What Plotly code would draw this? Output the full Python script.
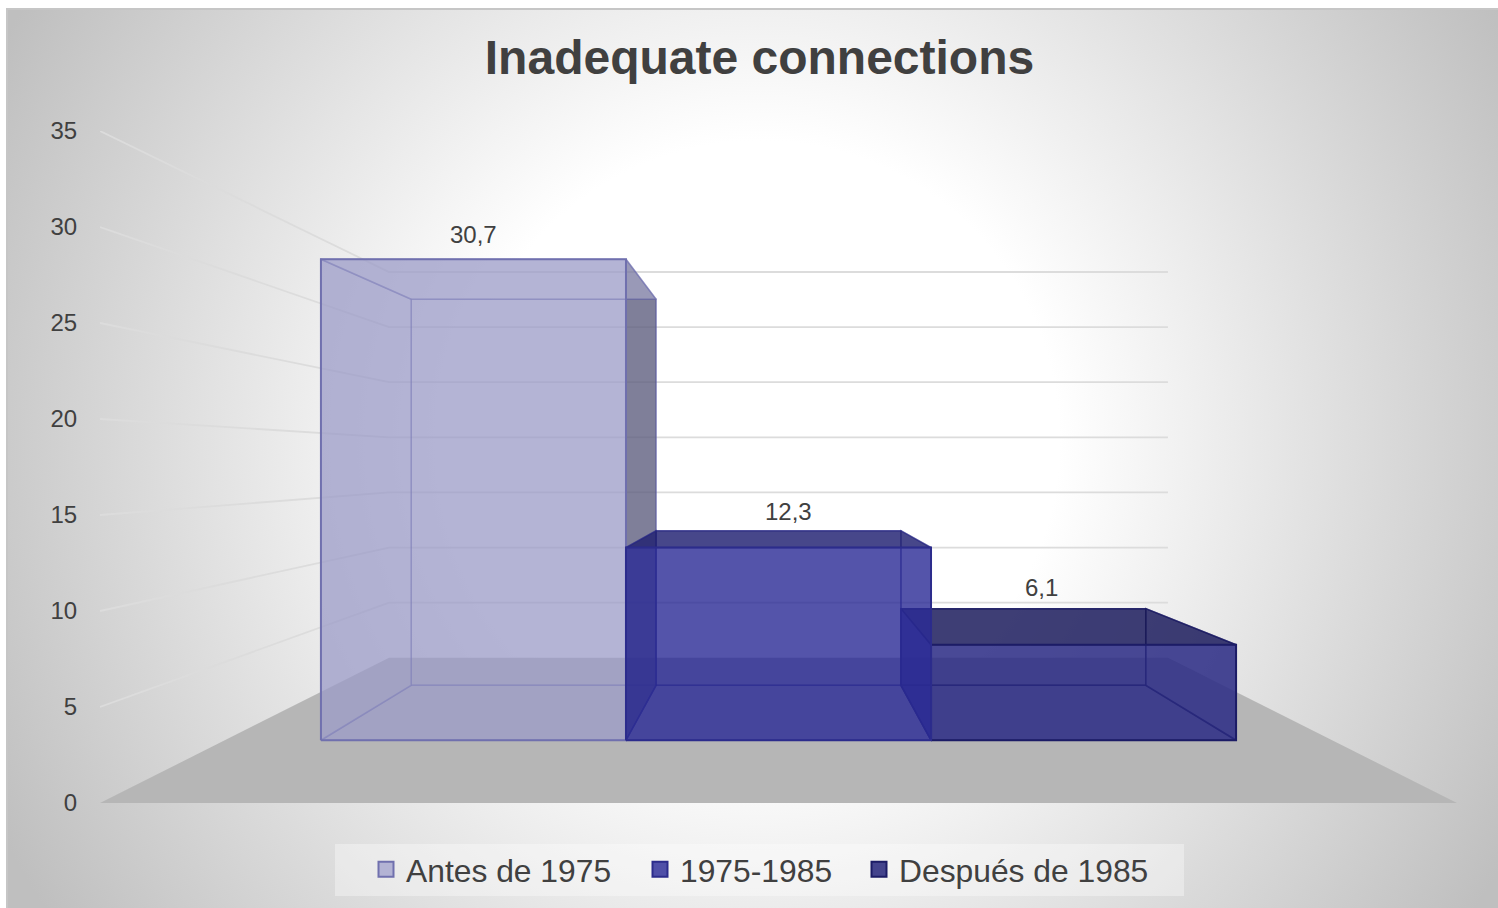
import base64
import plotly.graph_objects as go

# ---- data ----
TITLE = "Inadequate connections"
SERIES = ["Antes de 1975", "1975-1985", "Después de 1985"]
VALUES = [30.7, 12.3, 6.1]
AXIS_TICKS = [0, 5, 10, 15, 20, 25, 30, 35]

# ---- styles ----
TEXT = "#404040"
FONT = "Liberation Sans"
FACE = ["rgba(156,156,200,0.50)", "rgba(42,42,149,0.56)", "rgba(45,45,133,0.63)"]
EDGE = ["rgba(100,100,170,0.45)", "rgba(40,40,135,0.5)", "rgba(25,25,100,0.7)"]
OUTLINE = ["#7070ae", "#2c2c8c", "#1c1c66"]
SHADE = ["rgba(64,64,93,0.55)", "rgba(28,28,100,0.6)", "rgba(22,22,77,0.6)"]
SWATCH = ["#b3b3d4", "#4f4fa8", "#43438c"]
SWATCH_EDGE = ["#7070ae", "#2c2c8c", "#1c1c66"]
LABEL_SHIFT = [(0, -25), (10, -36), (-42, -57)]
LEGEND_X = [366, 640, 859]

W, H = 1498, 912
L, R, T, B = 100, 41, 131, 109
PW, PH = W - L - R, H - T - B

# perspective of the 3-D scene, expressed in axis units
HALF_WIDTH = 1.815        # half of the floor, in bar widths
HORIZON = 17.76           # vanishing height on the value axis
S_FRONT, S_BAR_FRONT, S_BAR_BACK, S_BACK = 1.0, 0.816, 0.655, 0.574


def proj(x, v, s):
    return x * s, HORIZON + s * (v - HORIZON)


def poly(corners):
    pts = [proj(*c) for c in corners]
    pts.append(pts[0])
    return [p[0] for p in pts], [p[1] for p in pts]


def px(xp):
    return (xp - L) / PW


def py(yp):
    return (H - B - yp) / PH


fig = go.Figure()


def face(corners, fill, line, width=1.5):
    xs, ys = poly(corners)
    fig.add_trace(go.Scatter(x=xs, y=ys, mode="lines", fill="toself", fillcolor=fill,
                             line=dict(color=line, width=width), hoverinfo="skip",
                             showlegend=False))


# floor
fx, fy = poly([(-HALF_WIDTH, 0, S_FRONT), (HALF_WIDTH, 0, S_FRONT),
               (HALF_WIDTH, 0, S_BACK), (-HALF_WIDTH, 0, S_BACK)])
fig.add_trace(go.Scatter(x=fx, y=fy, mode="lines", fill="toself", fillcolor="#b6b6b6",
                         line=dict(width=0), hoverinfo="skip", showlegend=False))

# walls' gridlines
gx, gy = [], []
for t in AXIS_TICKS[1:]:
    a = proj(-HALF_WIDTH, t, S_FRONT)
    b = proj(-HALF_WIDTH, t, S_BACK)
    c = proj(HALF_WIDTH, t, S_BACK)
    gx += [a[0], b[0], c[0], None]
    gy += [a[1], b[1], c[1], None]
fig.add_trace(go.Scatter(x=gx, y=gy, mode="lines", line=dict(color="#dcdcdc", width=1.8),
                         hoverinfo="skip", showlegend=False))


def draw_bar(i):
    v = VALUES[i]
    x0, x1 = i - 1.5, i - 0.5
    sf, sb = S_BAR_FRONT, S_BAR_BACK
    face([(x0, 0, sb), (x1, 0, sb), (x1, v, sb), (x0, v, sb)], FACE[i], EDGE[i])  # back
    face([(x0, 0, sf), (x1, 0, sf), (x1, 0, sb), (x0, 0, sb)], FACE[i], EDGE[i])  # bottom
    face([(x0, 0, sf), (x0, v, sf), (x0, v, sb), (x0, 0, sb)], FACE[i], EDGE[i])  # left
    face([(x1, 0, sf), (x1, v, sf), (x1, v, sb), (x1, 0, sb)],
         SHADE[i] if i == 0 else FACE[i], EDGE[i])                                 # right
    face([(x0, v, sf), (x1, v, sf), (x1, v, sb), (x0, v, sb)],
         FACE[i] if i == 0 else SHADE[i], EDGE[i])                                 # top
    face([(x0, 0, sf), (x1, 0, sf), (x1, v, sf), (x0, v, sf)], FACE[i], OUTLINE[i], 2)  # front


for i in (0, 2, 1):
    draw_bar(i)

# legend entries
for i, name in enumerate(SERIES):
    fig.add_trace(go.Scatter(x=[None], y=[None], mode="markers", name=name,
                             legend="legend" if i == 0 else f"legend{i + 1}",
                             marker=dict(symbol="square", size=15, color=SWATCH[i],
                                         line=dict(color=SWATCH_EDGE[i], width=2))))

# data labels
annotations = []
for i, v in enumerate(VALUES):
    ax, ay = proj(i - 1, v, S_BAR_FRONT)
    annotations.append(dict(x=ax, y=ay, xref="x", yref="y", showarrow=False,
                            text=f"{v:.1f}".replace(".", ","),
                            xshift=LABEL_SHIFT[i][0], yshift=-LABEL_SHIFT[i][1],
                            xanchor="center", yanchor="middle",
                            font=dict(family=FONT, size=24, color=TEXT)))

svg = ('<svg xmlns="http://www.w3.org/2000/svg" width="1492" height="904">'
       '<defs><radialGradient id="g" gradientUnits="userSpaceOnUse" cx="754" cy="432" r="855">'
       '<stop offset="0.35" stop-color="#ffffff"/><stop offset="1" stop-color="#bfbfbf"/>'
       '</radialGradient></defs><rect width="1492" height="904" fill="url(#g)"/></svg>')
bg = "data:image/svg+xml;base64," + base64.b64encode(svg.encode()).decode()

legend_common = dict(orientation="h", bgcolor="rgba(0,0,0,0)", xanchor="left", yanchor="middle",
                     y=py(869.5), font=dict(family=FONT, size=31.8, color=TEXT),
                     itemclick=False, itemdoubleclick=False)

fig.update_layout(
    width=W, height=H,
    margin=dict(l=L, r=R, t=T, b=B, pad=0),
    paper_bgcolor="white", plot_bgcolor="rgba(0,0,0,0)",
    title=dict(text=f"<b>{TITLE}</b>", x=759.5 / W, xanchor="center",
               y=1 - 57 / H, yanchor="middle", font=dict(family=FONT, size=48, color=TEXT)),
    xaxis=dict(range=[-HALF_WIDTH, HALF_WIDTH], visible=False, fixedrange=True),
    yaxis=dict(range=[0, 35], tickvals=AXIS_TICKS, showgrid=False, zeroline=False, showline=False,
               ticks="outside", ticklen=17, tickcolor="rgba(0,0,0,0)", fixedrange=True,
               tickfont=dict(family=FONT, size=24, color=TEXT)),
    showlegend=True,
    legend=dict(x=px(LEGEND_X[0]), **legend_common),
    legend2=dict(x=px(LEGEND_X[1]), **legend_common),
    legend3=dict(x=px(LEGEND_X[2]), **legend_common),
    annotations=annotations,
    images=[dict(source=bg, xref="paper", yref="paper", x=px(6), y=py(8),
                 sizex=1492 / PW, sizey=904 / PH, xanchor="left", yanchor="top",
                 sizing="stretch", layer="below")],
    shapes=[
        dict(type="rect", xref="paper", yref="paper", x0=px(335), x1=px(1184), y0=py(896), y1=py(844),
             fillcolor="rgba(255,255,255,0.35)", line=dict(width=0), layer="below"),
        dict(type="line", xref="paper", yref="paper", x0=px(6), x1=px(1498), y0=py(9), y1=py(9),
             line=dict(color="#c6c6c6", width=2), layer="below"),
        dict(type="line", xref="paper", yref="paper", x0=px(7), x1=px(7), y0=py(8), y1=py(912),
             line=dict(color="#c6c6c6", width=2), layer="below"),
    ],
)

fig.write_html(
    "out.html",
    post_script="document.body.style.margin='0';document.documentElement.style.overflow='hidden';"
                "document.body.style.overflow='hidden';document.body.style.height='908px';",
    config=dict(displayModeBar=False),
)
